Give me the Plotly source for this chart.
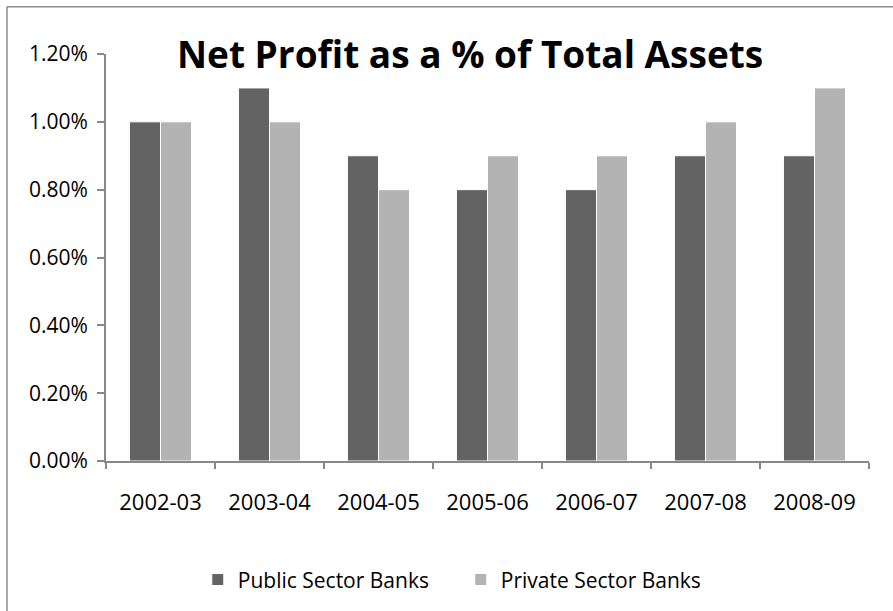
import plotly.graph_objects as go

# Net profit to total assets ratio, by financial year
years = ["2002-03", "2003-04", "2004-05", "2005-06", "2006-07", "2007-08", "2008-09"]
public_sector = [0.0100, 0.0110, 0.0090, 0.0080, 0.0080, 0.0090, 0.0090]
private_sector = [0.0100, 0.0100, 0.0080, 0.0090, 0.0090, 0.0100, 0.0110]
y_ticks = [0.0, 0.002, 0.004, 0.006, 0.008, 0.010, 0.012]

W, H = 893, 611
L, R, T, B = 106, 24, 53.5, 149
pw, ph = W - L - R, H - T - B

FONT = "Open Sans"
AXIS = "#878787"
FRAME = "#8c8c8c"


def px_x(x):
    return (x - L) / pw


def px_y(y):
    return (H - B - y) / ph


fig = go.Figure()
fig.add_trace(go.Bar(
    x=years, y=public_sector, name="Public Sector Banks",
    marker=dict(color="#636363", line=dict(color="white", width=1)),
))
fig.add_trace(go.Bar(
    x=years, y=private_sector, name="Private Sector Banks",
    marker=dict(color="#b3b3b3", line=dict(color="white", width=1)),
))

fig.update_layout(
    width=W, height=H,
    margin=dict(l=L, r=R, t=T, b=B),
    paper_bgcolor="white", plot_bgcolor="white",
    barmode="group", bargap=0.43, bargroupgap=0,
    font=dict(family=FONT, size=21, color="black"),
    showlegend=True,
    legend=dict(
        orientation="h", x=0.465, xanchor="center",
        y=px_y(580), yanchor="middle",
        font=dict(family=FONT, size=21, color="black"),
        traceorder="normal",
        entrywidth=218, entrywidthmode="pixels",
    ),
    xaxis=dict(
        type="category", showgrid=False, showline=True,
        linecolor=AXIS, linewidth=2,
        ticks="outside", tickson="boundaries", ticklen=6,
        tickcolor=AXIS, tickwidth=2,
        ticklabelstandoff=21,
        tickfont=dict(family=FONT, size=22),
    ),
    yaxis=dict(
        range=[0, 0.012], tickvals=y_ticks, tickformat=".2%",
        showgrid=False, zeroline=False, showline=True,
        linecolor=AXIS, linewidth=2,
        ticks="outside", ticklen=7, tickcolor=AXIS, tickwidth=2,
        ticklabelstandoff=5,
        tickfont=dict(family=FONT, size=21),
    ),
    annotations=[dict(
        text="<b>Net Profit as a % of Total Assets</b>",
        xref="paper", yref="paper", x=px_x(470), y=px_y(53),
        xanchor="center", yanchor="middle", showarrow=False,
        font=dict(family=FONT, size=37, color="black"),
    )],
    shapes=[
        # chart frame: only the left and top edges fall inside the page
        dict(type="line", xref="paper", yref="paper",
             x0=px_x(7), x1=px_x(7), y0=px_y(6), y1=px_y(H + 10),
             line=dict(color=FRAME, width=1.5), layer="below"),
        dict(type="line", xref="paper", yref="paper",
             x0=px_x(7), x1=px_x(W + 10), y0=px_y(6), y1=px_y(6),
             line=dict(color=FRAME, width=1.5), layer="below"),
    ],
)

fig.write_html("out.html")
